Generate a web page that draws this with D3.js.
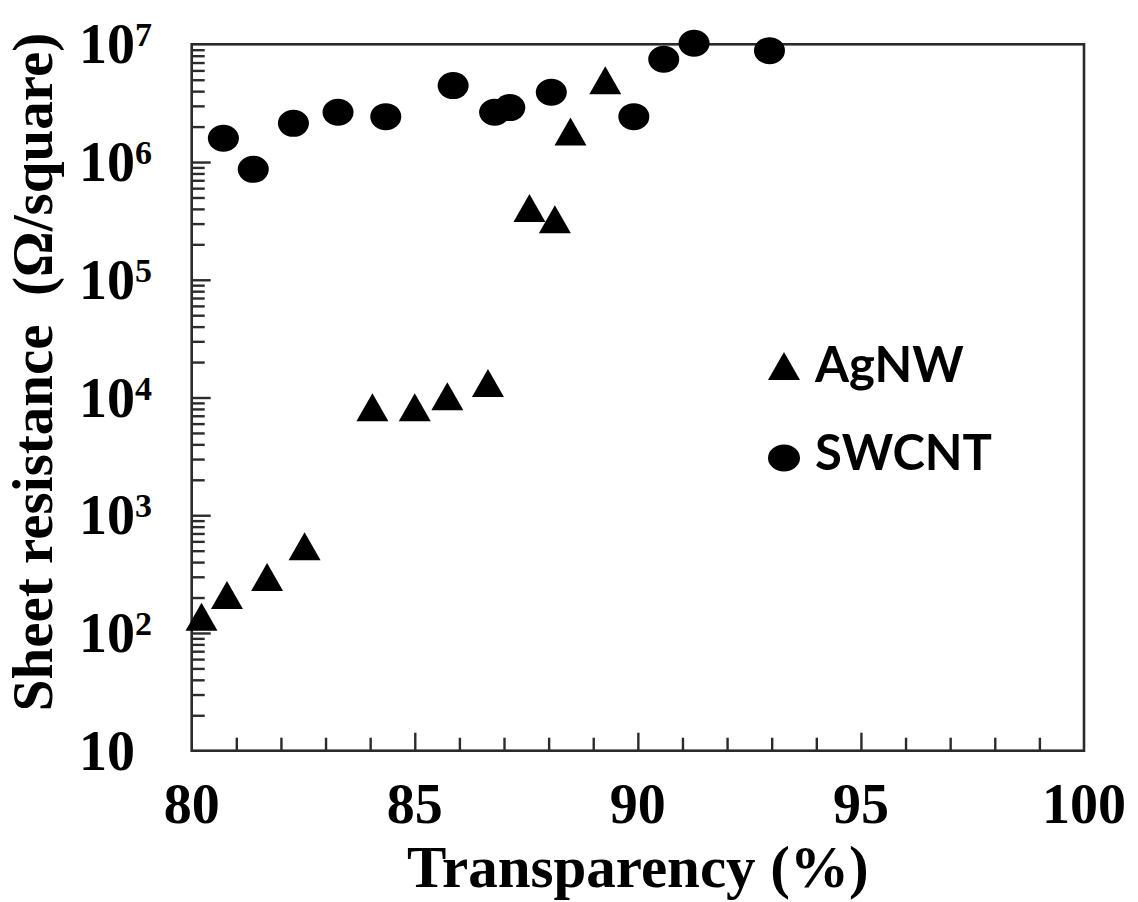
<!DOCTYPE html>
<html><head><meta charset="utf-8">
<script src="https://cdn.jsdelivr.net/npm/d3@7"></script>
<style>body{margin:0;background:#fff}</style>
</head><body>
<svg id="c" width="1138" height="902"></svg>
<script>
// Data
const agnwT = [80.22, 80.79, 81.69, 82.53, 84.05, 85.0, 85.73, 86.64, 87.57, 88.14, 88.49, 89.27];
const agnwR = [137, 210, 299, 545, 8280, 8280, 10230, 13280, 4.06e5, 3.27e5, 1.82e6, 4.96e6];
const swcntT = [80.71, 81.38, 82.28, 83.28, 84.35, 85.86, 86.79, 87.13, 88.06, 89.91, 90.58, 91.26, 92.95];
const swcntR = [1.59e6, 8.67e5, 2.13e6, 2.65e6, 2.43e6, 4.46e6, 2.65e6, 2.9e6, 3.92e6, 2.43e6, 7.46e6, 1.02e7, 8.83e6];
const xTickLabels = [80, 85, 90, 95, 100];
const yTickExps = [1, 2, 3, 4, 5, 6, 7];
const seriesNames = ["AgNW", "SWCNT"];

const L = 191.7, R = 1084, T = 44.3, B = 750.7;
const svg = d3.select("#c");
const x = d3.scaleLinear().domain([80, 100]).range([L, R]);
const y = d3.scaleLog().domain([10, 1e7]).range([B, T]);
const axisColor = "#2b2b2b";
const serif = "'Liberation Serif','Times New Roman',serif";

// minor/major ticks x
const xMinor = d3.range(81, 100).filter(v => v % 5 !== 0);
const xMajor = [85, 90, 95];
svg.append("g").attr("transform", `translate(0,${B})`)
  .call(d3.axisBottom(x).tickValues(xMinor).tickSize(-13).tickFormat(""))
  .call(g => g.select(".domain").remove());
svg.append("g").attr("transform", `translate(0,${B})`)
  .call(d3.axisBottom(x).tickValues(xMajor).tickSize(-18).tickFormat(""))
  .call(g => g.select(".domain").remove());

// y ticks
const yMinor = [];
for (let e = 1; e < 7; e++) for (let m = 2; m <= 9; m++) yMinor.push(m * Math.pow(10, e));
const yMajor = yTickExps.slice(1, 6).map(e => Math.pow(10, e));
svg.append("g").attr("transform", `translate(${L},0)`)
  .call(d3.axisLeft(y).tickValues(yMinor).tickSize(-13).tickFormat(""))
  .call(g => g.select(".domain").remove());
svg.append("g").attr("transform", `translate(${L},0)`)
  .call(d3.axisLeft(y).tickValues(yMajor).tickSize(-19).tickFormat(""))
  .call(g => g.select(".domain").remove());
svg.selectAll(".tick line").attr("stroke", axisColor).attr("stroke-width", 2.4);

// frame
svg.append("rect").attr("x", L).attr("y", T).attr("width", R - L).attr("height", B - T)
  .attr("fill", "none").attr("stroke", axisColor).attr("stroke-width", 2.6);

// x tick labels
svg.append("g").selectAll("text").data(xTickLabels).join("text")
  .attr("x", d => x(d)).attr("y", B + 72)
  .attr("text-anchor", "middle").attr("font-family", serif).attr("font-weight", "bold")
  .attr("font-size", 56).attr("fill", "#000").text(d => d);

// y tick labels
const yl = svg.append("g").selectAll("text").data(yTickExps).join("text")
  .attr("x", 79).attr("y", d => y(Math.pow(10, d)) + 19)
  .attr("font-family", serif).attr("font-weight", "bold").attr("font-size", 56).attr("fill", "#000");
yl.append("tspan").text("10");
yl.filter(d => d > 1).append("tspan").attr("font-size", 34).attr("dy", -17).text(d => d);

// axis titles
svg.append("text").attr("x", (L + R) / 2).attr("y", 887).attr("text-anchor", "middle")
  .attr("font-family", serif).attr("font-weight", "bold").attr("font-size", 59)
  .text("Transparency (%)");
svg.append("text").attr("transform", "translate(52,372) rotate(-90)").attr("text-anchor", "middle")
  .attr("font-family", serif).attr("font-weight", "bold").attr("font-size", 57)
  .attr("xml:space", "preserve").style("white-space", "pre")
  .text("Sheet resistance  (Ω/square)");

// markers
const triPath = "M0,-14L16,14L-16,14Z";
const ag = agnwT.map((t, i) => ({t, r: agnwR[i]}));
const sw = swcntT.map((t, i) => ({t, r: swcntR[i]}));
svg.append("g").selectAll("ellipse").data(sw).join("ellipse")
  .attr("cx", d => x(d.t)).attr("cy", d => y(d.r)).attr("rx", 15.5).attr("ry", 13.5).attr("fill", "#000");
svg.append("g").selectAll("path").data(ag).join("path")
  .attr("transform", d => `translate(${x(d.t)},${y(d.r)})`).attr("d", triPath).attr("fill", "#000");

// legend
const sans = "Lato,'Open Sans',sans-serif";
svg.append("path").attr("transform", "translate(784,366)").attr("d", triPath).attr("fill", "#000");
svg.append("ellipse").attr("cx", 784).attr("cy", 458).attr("rx", 16).attr("ry", 13.5).attr("fill", "#000");
svg.append("g").selectAll("text").data(seriesNames).join("text")
  .attr("x", 815).attr("y", (d, i) => 382 + i * 88)
  .attr("font-family", sans).attr("font-weight", "bold").attr("font-size", 49).attr("fill", "#000")
  .text(d => d);
</script>
</body></html>
